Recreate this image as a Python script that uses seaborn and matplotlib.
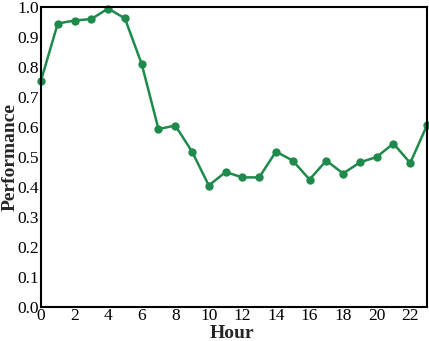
import matplotlib
matplotlib.use("Agg")
import matplotlib.pyplot as plt
import seaborn as sns
import pandas as pd

hours = list(range(24))
performance = [0.755, 0.945, 0.955, 0.960, 0.995, 0.962, 0.810, 0.593, 0.605, 0.518,
               0.405, 0.450, 0.432, 0.432, 0.518, 0.488, 0.425, 0.488, 0.445, 0.482,
               0.500, 0.545, 0.480, 0.606]
x_ticks = list(range(0, 24, 2))
y_ticks = [0.0, 0.1, 0.2, 0.3, 0.4, 0.5, 0.6, 0.7, 0.8, 0.9, 1.0]

sns.set_style("white")
plt.rcParams['font.family'] = ['Liberation Serif', 'DejaVu Serif']

df = pd.DataFrame({"Hour": hours, "Performance": performance})

fig = plt.figure(figsize=(4.29, 3.41), dpi=100)
ax = fig.add_axes([41/429, 34/341, 386/429, 300/341])
sns.lineplot(data=df, x="Hour", y="Performance", ax=ax, color="#1e8a4c",
             marker="o", markersize=6, markeredgewidth=0, linewidth=1.8, clip_on=False)
ax.set_xlim(0, 23)
ax.set_ylim(0, 1.0)
ax.set_xticks(x_ticks)
ax.set_yticks(y_ticks)
ax.set_yticklabels([f"{v:.1f}" for v in y_ticks])
ax.tick_params(direction="in", length=3, width=1, labelsize=12.5, pad=1.5, colors="black")
ax.tick_params(axis="x", pad=1)
for s in ax.spines.values():
    s.set_color("black")
    s.set_linewidth(1.5)
ax.set_xlabel("Hour", fontsize=14, fontweight="bold")
ax.set_ylabel("Performance", fontsize=14, fontweight="bold")
ax.xaxis.set_label_coords(0.495, -0.089)
ax.yaxis.set_label_coords(-0.081, 0.5)
ax.yaxis.label.set_va("center")
ax.xaxis.label.set_va("center")
fig.savefig("out.png", dpi=100)
